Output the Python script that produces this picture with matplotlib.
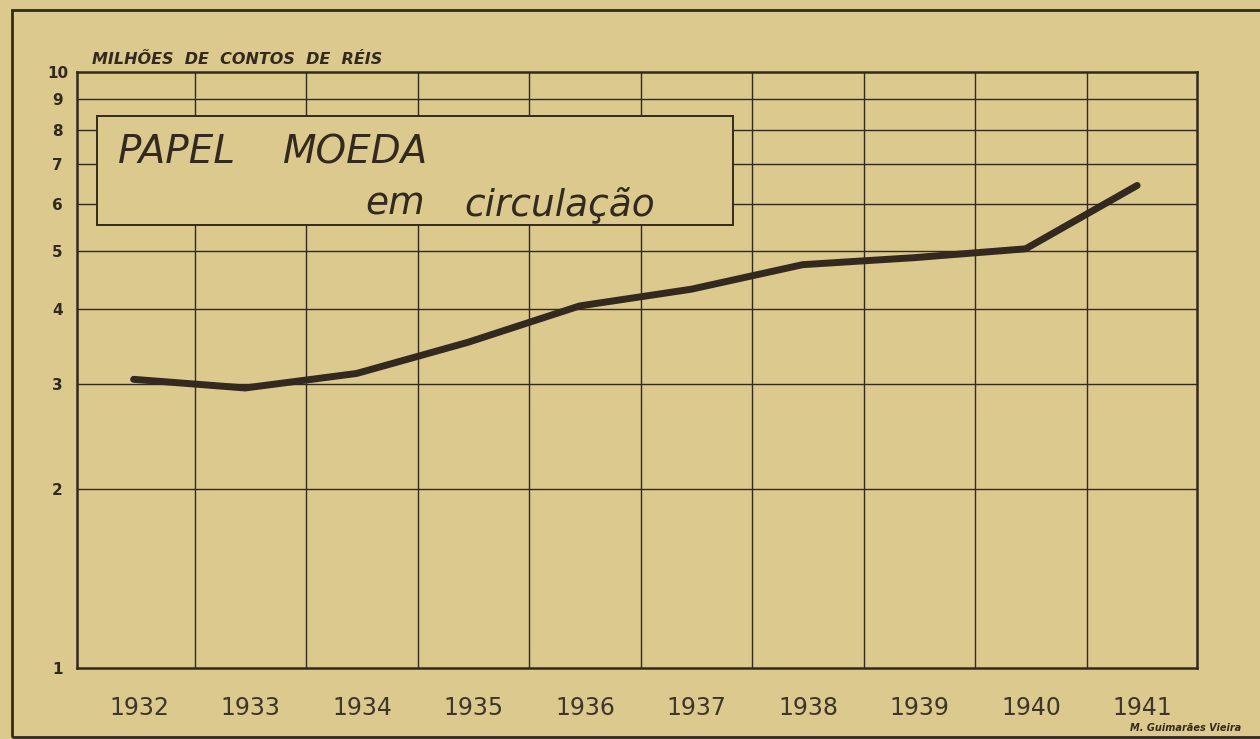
import numpy as np
import matplotlib.pyplot as plt
from matplotlib.patches import Rectangle

# papel moeda em circulacao, milhoes de contos de reis
years = [1932, 1933, 1934, 1935, 1936, 1937, 1938, 1939, 1940, 1941]
values = [3.05, 2.95, 3.12, 3.52, 4.05, 4.32, 4.75, 4.88, 5.05, 6.45]
y_ticks = [1, 2, 3, 4, 5, 6, 7, 8, 9, 10]
y_labels = ["1", "2", "3", "4", "5", "6", "7", "8", "9", "10"]

paper = "#dbc98e"
ink = "#33291f"

fig = plt.figure(figsize=(12.6, 7.39), dpi=100, facecolor=paper)
ax = fig.add_axes([77 / 1260, 0.0961, 1120 / 1260, 0.8065])
ax.set_facecolor(paper)

ax.set_yscale("log")
ax.set_ylim(1, 10)
ax.set_xlim(1931.442, 1941.487)

# grid: vertical lines between the year columns, horizontal at each unit
for x in np.arange(years[0] + 0.5, years[-1], 1.0):
    ax.axvline(x, color=ink, lw=1.0, zorder=1)
for v in y_ticks[1:-1]:
    ax.axhline(v, color=ink, lw=1.0, zorder=1)

for s in ax.spines.values():
    s.set_color(ink)
    s.set_linewidth(1.8)

ax.set_yticks(y_ticks)
ax.set_yticklabels(y_labels)
ax.yaxis.set_minor_locator(plt.NullLocator())
ax.set_xticks(years)
ax.set_xticklabels([str(y) for y in years])
ax.tick_params(axis="y", length=0, pad=14, labelsize=11, labelcolor=ink)
ax.tick_params(axis="x", length=0, pad=20, labelsize=17, labelcolor="#3f352a")
for lab in ax.get_yticklabels():
    lab.set_fontweight("bold")
    lab.set_horizontalalignment("center")

ax.plot(np.array(years) - 0.05, values, color=ink, lw=5,
        solid_capstyle="round", zorder=4)

# title box covering the grid
ax.add_patch(Rectangle((0.018, 0.743), 0.568, 0.183, transform=ax.transAxes,
                       facecolor=paper, edgecolor=ink, lw=1.4, zorder=3))
title_kw = dict(transform=ax.transAxes, style="italic", color=ink,
                va="center", ha="left", zorder=5)
ax.text(0.037, 0.865, "PAPEL", fontsize=28, **title_kw)
ax.text(0.184, 0.865, "MOEDA", fontsize=28, **title_kw)
ax.text(0.257, 0.777, "em", fontsize=27, **title_kw)
ax.text(0.346, 0.777, "circulação", fontsize=27, **title_kw)

fig.text(0.073, 0.919, "MILHÕES  DE  CONTOS  DE  RÉIS", fontsize=11.5,
         style="italic", fontweight="bold", color=ink, va="center", ha="left")
fig.text(0.897, 0.008, "M. Guimarães Vieira", fontsize=7, style="italic",
         fontweight="bold", color=ink, va="bottom", ha="left")

# outer frame of the plate
fig.patches.append(Rectangle((0.0095, 0.003), 1.0, 0.984, transform=fig.transFigure,
                             facecolor="none", edgecolor=ink, lw=2))

fig.savefig("out.png", dpi=100, facecolor=paper)
